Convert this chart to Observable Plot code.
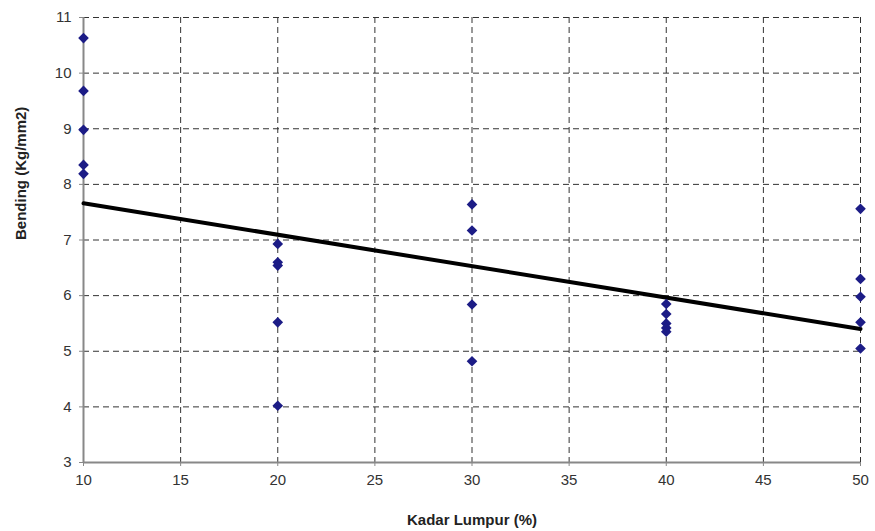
<!DOCTYPE html>
<html><head><meta charset="utf-8">
<script src="https://cdn.jsdelivr.net/npm/d3@7"></script>
<script src="https://cdn.jsdelivr.net/npm/@observablehq/plot@0.6"></script>
<style>
body{margin:0;background:#fff;}
#chart svg{display:block;}
</style></head>
<body><div id="chart"></div>
<script>
const kadar = [10,10,10,10,10, 20,20,20,20,20, 30,30,30,30, 40,40,40,40,40, 50,50,50,50,50];
const bending = [10.63,9.68,8.98,8.35,8.19, 6.93,6.6,6.54,5.52,4.02, 7.64,7.17,5.84,4.82, 5.85,5.67,5.5,5.42,5.35, 7.56,6.3,5.98,5.52,5.05];
const trendX = [10, 50];
const trendY = [7.66, 5.4];
const xTicks = [10,15,20,25,30,35,40,45,50];
const yTicks = [3,4,5,6,7,8,9,10,11];

const pts = kadar.map((k,i)=>({x:k,y:bending[i]}));
const trend = trendX.map((k,i)=>({x:k,y:trendY[i]}));

const chart = Plot.plot({
  width: 875, height: 531,
  marginLeft: 83, marginRight: 15, marginTop: 17, marginBottom: 69,
  style: {fontFamily: "Liberation Sans, Arial, sans-serif", fontSize: "14px", color: "#333", background: "#fff"},
  x: {domain: [10,50], ticks: xTicks, label: null},
  y: {domain: [3,11], ticks: yTicks, label: null},
  marks: [
    Plot.gridX(xTicks.filter(d=>d>10), {stroke:"#333", strokeOpacity:1, strokeDasharray:"6,4", strokeWidth:1}),
    Plot.gridY(yTicks.filter(d=>d>3), {stroke:"#333", strokeOpacity:1, strokeDasharray:"6,4", strokeWidth:1}),
    Plot.axisX({ticks: xTicks, tickSize: 4, tickPadding: 8, stroke:"#888", fontSize: 15, fill:"#333"}),
    Plot.axisY({ticks: yTicks, tickSize: 4, tickPadding: 8, stroke:"#888", fontSize: 15, fill:"#333"}),
    Plot.ruleX([10], {stroke:"#888", strokeWidth:2}),
    Plot.ruleY([3], {stroke:"#888", strokeWidth:2}),
    Plot.line(trend, {x:"x", y:"y", stroke:"#000", strokeWidth:4}),
    Plot.dot(pts, {x:"x", y:"y", symbol:"diamond2", r:4.8, fill:"#1c1c86", stroke:"none"}),
    Plot.text(["Kadar Lumpur (%)"], {frameAnchor:"bottom", dy: 62, x: 30, fontWeight:"bold", fontSize:15, fill:"#222", fontFamily:"Liberation Sans Narrow, Arial Narrow, sans-serif"}),
    Plot.text(["Bending (Kg/mm2)"], {frameAnchor:"left", dx:-62, rotate:-90, fontWeight:"bold", fontSize:15, fill:"#222", fontFamily:"Liberation Sans Narrow, Arial Narrow, sans-serif"})
  ]
});
document.getElementById("chart").appendChild(chart);
</script></body></html>
